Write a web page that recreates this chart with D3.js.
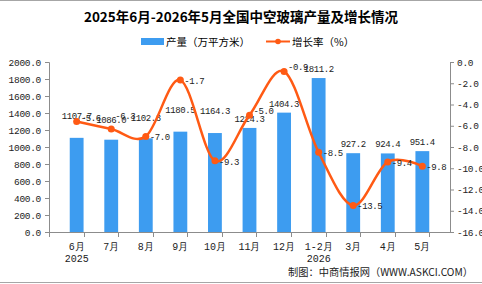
<!DOCTYPE html>
<html>
<head>
<meta charset="utf-8">
<script src="https://cdn.jsdelivr.net/npm/d3@7"></script>
<style>
  body { margin: 0; background: #fff; }
  svg { display: block; }
</style>
</head>
<body>
<svg id="chart" width="482" height="284"></svg>
<script>
// data
const months = ["6月", "7月", "8月", "9月", "10月", "11月", "12月", "1-2月", "3月", "4月", "5月"];
const yearLabels = ["2025", "", "", "", "", "", "", "2026", "", "", ""];
const output = [1107.7, 1086.0, 1102.3, 1180.5, 1164.3, 1224.3, 1404.3, 1811.2, 927.2, 924.4, 951.4];
const growth = [-5.6, -6.3, -7.0, -1.7, -9.3, -5.0, -0.9, -8.5, -13.5, -9.4, -9.8];
const leftTicks = [0, 200, 400, 600, 800, 1000, 1200, 1400, 1600, 1800, 2000];
const rightTicks = [0, -2, -4, -6, -8, -10, -12, -14, -16];

// label nudges so labels sit where the original put them
const barLabelLift = [13, 11, 11, 13, 13, 0, 0, 0, 0, 0, 0];
const lineLabelLift = [5, 14, 0, 0, 0, 5, 6, 0, 0, 0, 0];

const svg = d3.select("#chart");
const W = 482, H = 284;
const plotL = 49, plotR = 450, plotT = 62, plotB = 232;
const mono = "'Liberation Mono', 'DejaVu Sans Mono', monospace";
const cjk = "'Noto Sans CJK SC', sans-serif";
const barColor = "#3d9cf0";
const lineColor = "#ff5a14";
const axisColor = "#8c8c8c";

// frame lines
svg.append("line").attr("x1", 0).attr("x2", W).attr("y1", 0.5).attr("y2", 0.5)
  .attr("stroke", "#a6a6a6");
svg.append("line").attr("x1", 0).attr("x2", W).attr("y1", 282.5).attr("y2", 282.5)
  .attr("stroke", "#a6a6a6");

// title
svg.append("text")
  .attr("x", W / 2).attr("y", 22)
  .attr("text-anchor", "middle")
  .style("font-family", cjk).style("font-size", "13.5px").style("font-weight", "bold")
  .text("2025年6月-2026年5月全国中空玻璃产量及增长情况");

// legend
let lg = svg.append("g").style("font-family", cjk).style("font-size", "10.5px");
lg.append("rect").attr("x", 141).attr("y", 38).attr("width", 23).attr("height", 7).attr("fill", barColor);
lg.append("text").attr("x", 166).attr("y", 46).text("产量（万平方米）");
lg.append("line").attr("x1", 266).attr("x2", 290).attr("y1", 41.5).attr("y2", 41.5)
  .attr("stroke", lineColor).attr("stroke-width", 2);
lg.append("circle").attr("cx", 278).attr("cy", 41.5).attr("r", 2.8).attr("fill", lineColor);
lg.append("text").attr("x", 292).attr("y", 46).text("增长率（%）");

// scales
const x = d3.scaleBand().domain(months).range([plotL, plotR]).padding(0.6);
const yL = d3.scaleLinear().domain([0, 2000]).range([plotB, plotT]);
const yR = d3.scaleLinear().domain([-16, 0]).range([plotB, plotT]);
const xc = d => x(d) + x.bandwidth() / 2;

// bars
svg.selectAll(".bar")
  .data(output)
  .enter()
  .append("rect")
  .attr("class", "bar")
  .attr("x", (d, i) => x(months[i]))
  .attr("y", d => yL(d))
  .attr("width", x.bandwidth())
  .attr("height", d => plotB - yL(d))
  .attr("fill", barColor);

// left axis
let gl = svg.append("g")
  .attr("transform", `translate(${plotL},0)`)
  .call(d3.axisLeft(yL).tickValues(leftTicks).tickFormat(d3.format(".1f")).tickSize(4).tickPadding(4));
gl.select(".domain").attr("stroke", axisColor);
gl.selectAll(".tick line").attr("stroke", axisColor);
gl.selectAll("text").style("font-family", mono).style("font-size", "9.5px")
  .style("letter-spacing", "-0.3px").attr("fill", "#222");

// right axis (plain hyphen minus like the original)
let gr = svg.append("g")
  .attr("transform", `translate(${plotR},0)`)
  .call(d3.axisRight(yR).tickValues(rightTicks).tickFormat(d => d.toFixed(1)).tickSize(4).tickPadding(3));
gr.select(".domain").attr("stroke", axisColor);
gr.selectAll(".tick line").attr("stroke", axisColor);
gr.selectAll("text").style("font-family", mono).style("font-size", "9.5px")
  .style("letter-spacing", "-0.3px").attr("fill", "#222");

// x axis with ticks at category boundaries
svg.append("line").attr("x1", plotL).attr("x2", plotR).attr("y1", plotB + 0.5).attr("y2", plotB + 0.5)
  .attr("stroke", axisColor);
const step = x.step();
svg.selectAll(".xtick")
  .data(d3.range(months.length + 1))
  .enter()
  .append("line")
  .attr("x1", i => Math.round(plotL + i * step) + 0.5)
  .attr("x2", i => Math.round(plotL + i * step) + 0.5)
  .attr("y1", plotB).attr("y2", plotB + 5)
  .attr("stroke", axisColor);

let xl = svg.append("g").style("font-family", mono).style("font-size", "10px").attr("fill", "#222");
xl.selectAll(".m")
  .data(months)
  .enter()
  .append("text")
  .attr("x", d => xc(d))
  .attr("y", 250)
  .attr("text-anchor", "middle")
  .text(d => d);
xl.selectAll(".yr")
  .data(yearLabels)
  .enter()
  .append("text")
  .attr("x", (d, i) => xc(months[i]))
  .attr("y", 262)
  .attr("text-anchor", "middle")
  .text(d => d);

// bar labels
svg.selectAll(".blabel")
  .data(output)
  .enter()
  .append("text")
  .attr("x", (d, i) => xc(months[i]))
  .attr("y", (d, i) => yL(d) - 6 - barLabelLift[i])
  .attr("text-anchor", "middle")
  .style("font-family", mono).style("font-size", "9px").style("letter-spacing", "-0.4px")
  .attr("fill", "#222")
  .text(d => d.toFixed(1));

// growth line
const line = d3.line()
  .x((d, i) => xc(months[i]))
  .y(d => yR(d))
  .curve(d3.curveCardinal.tension(0));

svg.append("path")
  .datum(growth)
  .attr("d", line)
  .attr("fill", "none")
  .attr("stroke", lineColor)
  .attr("stroke-width", 2.5);

svg.selectAll(".pt")
  .data(growth)
  .enter()
  .append("circle")
  .attr("cx", (d, i) => xc(months[i]))
  .attr("cy", d => yR(d))
  .attr("r", 3.5)
  .attr("fill", lineColor);

svg.selectAll(".llabel")
  .data(growth)
  .enter()
  .append("text")
  .attr("x", (d, i) => xc(months[i]) + 4)
  .attr("y", (d, i) => yR(d) + 4 - lineLabelLift[i])
  .style("font-family", mono).style("font-size", "9px").style("letter-spacing", "-0.4px")
  .attr("fill", "#222")
  .text(d => d.toFixed(1));

// source
svg.append("text")
  .attr("x", 473).attr("y", 276)
  .attr("text-anchor", "end")
  .attr("textLength", 185).attr("lengthAdjust", "spacingAndGlyphs")
  .style("font-family", cjk).style("font-size", "10.5px").attr("fill", "#222")
  .text("制图：中商情报网（WWW.ASKCI.COM）");
</script>
</body>
</html>
